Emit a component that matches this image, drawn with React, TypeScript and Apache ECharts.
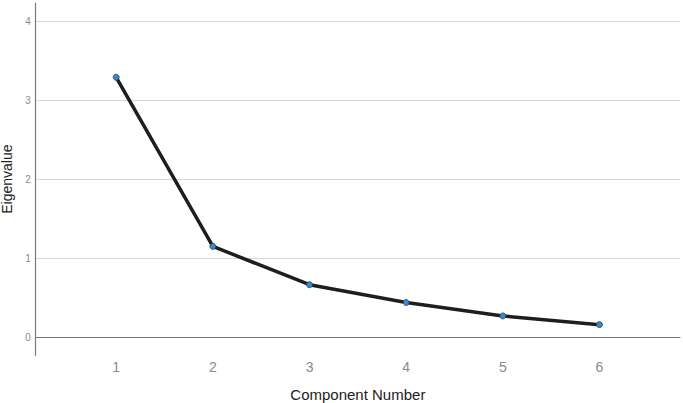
import React, { useEffect, useRef } from "react";
import * as echarts from "echarts";

const components = [1, 2, 3, 4, 5, 6];
const eigenvalues = [3.29, 1.15, 0.665, 0.44, 0.27, 0.16];
const yTicks = [0, 1, 2, 3, 4];
const xTicks = [1, 2, 3, 4, 5, 6];

export default function App() {
  const ref = useRef<HTMLDivElement>(null);
  useEffect(() => {
    if (!ref.current) return;
    const chart = echarts.init(ref.current, undefined, { renderer: "svg" });
    const font = "Liberation Sans, Arial, sans-serif";
    chart.setOption({
      animation: false,
      backgroundColor: "#ffffff",
      grid: { left: 35.7, right: 3, top: 3, bottom: 47.7, containLabel: false, outerBoundsMode: "none" },
      xAxis: {
        type: "value",
        min: 0.167,
        max: 6.833,
        name: "Component Number",
        nameLocation: "middle",
        nameGap: 31.5,
        nameTextStyle: { fontFamily: font, fontSize: 15, color: "#222" },
        axisLine: { show: true, lineStyle: { color: "#7a7a7a", width: 1.2 } },
        axisTick: { show: false, customValues: xTicks },
        axisLabel: { customValues: xTicks, fontFamily: font, fontSize: 14, color: "#8a8a8a", margin: 5 },
        splitLine: { show: false },
      },
      yAxis: {
        type: "value",
        min: -0.228,
        max: 4.23,
        name: "Eigenvalue",
        nameLocation: "middle",
        nameGap: 13,
        nameTextStyle: { fontFamily: font, fontSize: 14, color: "#222" },
        axisLine: { show: true, lineStyle: { color: "#7a7a7a", width: 1.2 } },
        axisTick: { show: false, customValues: yTicks },
        axisLabel: { customValues: yTicks, fontFamily: font, fontSize: 10, color: "#8a8a8a", margin: 5 },
        splitLine: { show: true, lineStyle: { color: "#d6d6d6", width: 1 } },
      },
      series: [
        {
          type: "line",
          data: components.map((c, i) => [c, eigenvalues[i]]),
          lineStyle: { color: "#1e1e1e", width: 3.5 },
          symbol: "circle",
          symbolSize: 6,
          itemStyle: { color: "#3d86c8", borderColor: "#1f3d63", borderWidth: 0.8 },
          z: 3,
        },
      ],
    });
    return () => chart.dispose();
  }, []);
  return <div ref={ref} style={{ width: 683, height: 403, position: "absolute", left: 0, top: 0 }} />;
}
